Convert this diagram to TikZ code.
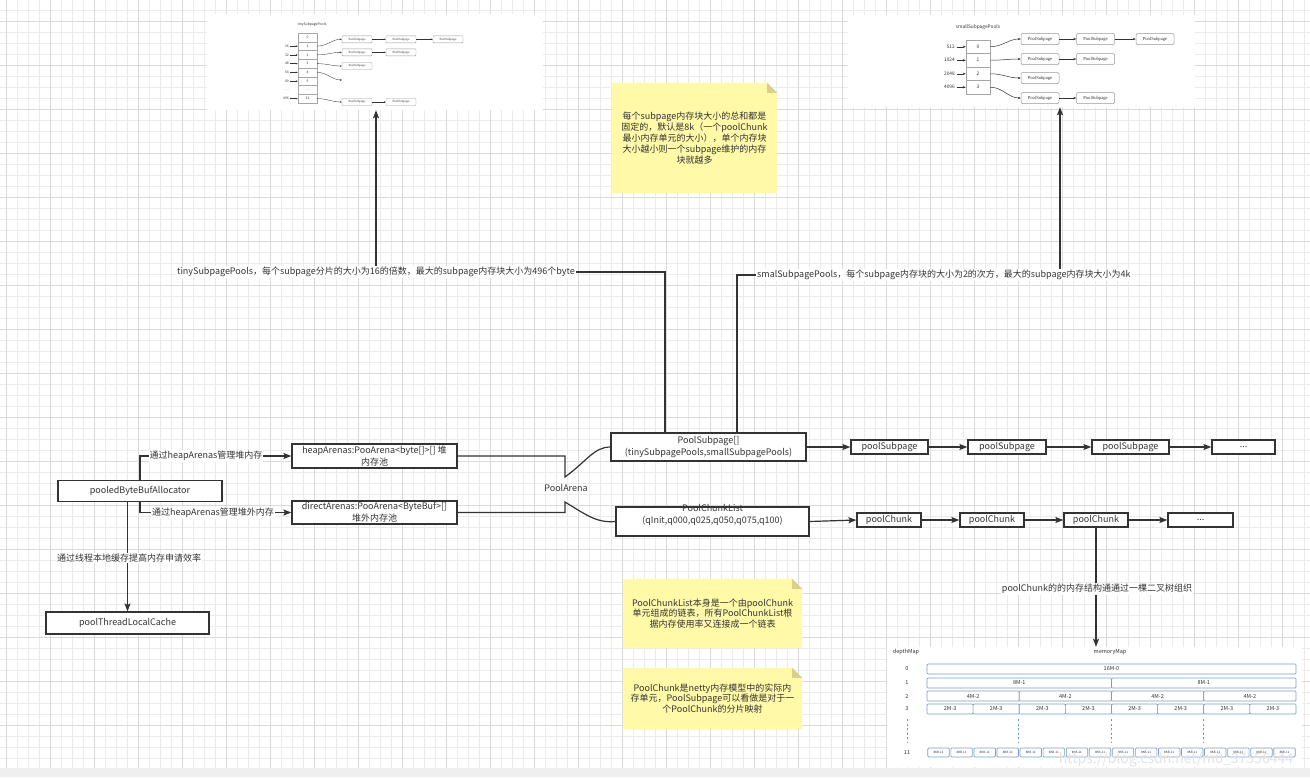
\documentclass[tikz,border=0pt]{standalone}
\usepackage{fontspec}
\setmainfont{Noto Sans CJK SC}
\newfontfamily\insetserif{Liberation Serif}
\usetikzlibrary{arrows.meta}
\pgfdeclarelayer{gridlayer}
\pgfdeclarelayer{notelayer}
\pgfsetlayers{gridlayer,notelayer,main}

\definecolor{ink}{HTML}{333333}
\definecolor{gridminor}{HTML}{EBEBEB}
\definecolor{gridmajor}{HTML}{DADADA}
\definecolor{notefill}{HTML}{FFF9A8}
\definecolor{notefold}{HTML}{D8D08C}
\definecolor{mapline}{HTML}{7C9DC4}
\definecolor{mapdashc}{HTML}{5A97D6}
\definecolor{stripgray}{HTML}{EFEFEF}

\tikzset{
  mainfont/.style={font=\fontsize{9}{12}\selectfont},
  box/.style={draw=ink, line width=1.2pt, fill=white, text=ink, mainfont,
              inner sep=0pt, align=center},
  conn/.style={draw=ink, line width=1.2pt},
  arr/.style={conn, -{Stealth[length=8pt,width=6pt,inset=1.5pt]}},
  lbl/.style={fill=white, text=ink, mainfont, inner sep=1pt},
  notetext/.style={text=ink, font=\fontsize{9}{10.8}\selectfont, align=center, inner sep=0pt},
  inset/.style={fill=white, draw=none, inner sep=0pt},
  % small drawings inside the three white panels
  ttxt/.style={text=ink, font=\fontsize{3.4}{4}\selectfont, inner sep=0pt},
  tcell/.style={draw=gray!70, line width=0.4pt, fill=white, text=ink,
                font=\fontsize{3.4}{4}\selectfont, inner sep=0pt,
                minimum width=19, minimum height=8.75},
  tbox/.style={draw=gray!80, line width=0.4pt, rounded corners=0.8pt, fill=white, text=ink,
               font=\insetserif\fontsize{3.2}{4}\selectfont, inner sep=0pt,
               minimum width=30, minimum height=7},
  tarr/.style={draw=ink, line width=0.35pt, -{Stealth[length=2pt,width=1.6pt]}},
  stxt/.style={text=ink, font=\fontsize{4.8}{5}\selectfont, inner sep=0pt},
  scell/.style={draw=gray!70, line width=0.5pt, fill=white, text=ink,
                font=\fontsize{4.8}{5}\selectfont, inner sep=0pt,
                minimum width=24, minimum height=13.5},
  sbox/.style={draw=gray!80, line width=0.5pt, rounded corners=1.2pt, fill=white, text=ink,
               font=\insetserif\fontsize{4.6}{5}\selectfont, inner sep=0pt,
               minimum width=38, minimum height=11},
  sarr/.style={draw=ink, line width=0.5pt, -{Stealth[length=3pt,width=2.4pt]}},
  mtxt/.style={text=ink, font=\fontsize{5.5}{6}\selectfont, inner sep=0pt},
  mbox/.style={draw=mapline, line width=0.7pt, rounded corners=1pt, fill=white, text=ink,
               font=\fontsize{5.5}{6}\selectfont, inner sep=0pt, minimum height=10},
  mleaf/.style={mbox, font=\fontsize{3}{3.5}\selectfont, minimum width=21.5, minimum height=9},
  mapdash/.style={draw=mapdashc, line width=0.8pt, dash pattern=on 2pt off 2.5pt},
}

\begin{document}
\begin{tikzpicture}[x=1pt,y=-1pt]
\useasboundingbox (0,0) rectangle (1310,777);

% ---- canvas with grid ----
\begin{pgfonlayer}{gridlayer}
  \fill[white] (0,0) rectangle (1310,777);
  \foreach \gx in {6,17,...,1310} \draw[gridminor, line width=0.7pt] (\gx,0) -- (\gx,768);
  \foreach \gy in {10.3,21.3,...,768} \draw[gridminor, line width=0.7pt] (0,\gy) -- (1310,\gy);
  \foreach \gx in {6,50,...,1310} \draw[gridmajor, line width=0.7pt] (\gx,0) -- (\gx,768);
  \foreach \gy in {21.3,65.3,...,768} \draw[gridmajor, line width=0.7pt] (0,\gy) -- (1310,\gy);
  \fill[stripgray] (0,768) rectangle (1310,777);
\end{pgfonlayer}

% ---- panel: tinySubpagePools ----
\node[inset, minimum width=336, minimum height=96] (tinyimg) at (375,62) {};
\node[ttxt] (ttitle) at (312,25) {tinySubpagePools};
\foreach \i/\t in {0/0,1/1,2/2,3/3,4/4,5/5,6/\ldots,7/31}{
  \pgfmathsetmacro\yc{33+8.75*(\i+0.5)}
  \node[tcell] (tc\i) at (307.5,\yc) {\t};
}
\foreach \i/\n in {1/16,2/32,3/48,4/64,5/80,7/496}{
  \node[ttxt, anchor=east] (tk\i) at (289,{33+8.75*(\i+0.5)}) {\n};
  \draw[tarr, shorten <=1pt] (tk\i.east) -- (tc\i.west);
}
\node[ttxt, anchor=east] (tk6) at (289,{33+8.75*6.5}) {\ldots};
\node[tbox] (tb11) at (357,39.3) {PoolSubpage};
\node[tbox] (tb12) at (401,39.3) {PoolSubpage};
\node[tbox] (tb13) at (448,39.3) {PoolSubpage};
\node[tbox] (tb21) at (357,52.3) {PoolSubpage};
\node[tbox] (tb22) at (401,52.3) {PoolSubpage};
\node[tbox] (tb31) at (357,66) {PoolSubpage};
\coordinate (tb41) at (342,80);
\node[tbox] (tb71) at (357,102) {PoolSubpage};
\node[tbox] (tb72) at (401,102) {PoolSubpage};
\draw[tarr] (tc1.east) to[out=0,in=180] (tb11.west);
\draw[tarr] (tc2.east) to[out=0,in=180] (tb21.west);
\draw[tarr] (tc3.east) to[out=0,in=180] (tb31.west);
\draw[tarr] (tc4.east) to[out=0,in=180] (tb41);
\draw[tarr] (tc7.east) to[out=0,in=180] (tb71.west);
\draw[tarr] (tb11) -- (tb12);
\draw[tarr] (tb12) -- (tb13);
\draw[tarr] (tb21) -- (tb22);
\draw[tarr] (tb71) -- (tb72);

% ---- panel: smallSubpagePools ----
\node[inset, minimum width=347, minimum height=92] (smallimg) at (1021.5,61) {};
\node[stxt] (stitle) at (978,27) {smallSubpagePools};
\foreach \i/\n in {0/512,1/1024,2/2048,3/4096}{
  \pgfmathsetmacro\yc{40+13.5*(\i+0.5)}
  \node[scell] (sc\i) at (978,\yc) {\i};
  \node[stxt, anchor=east] (sk\i) at (955,\yc) {\n};
  \draw[sarr, shorten <=1.5pt] (sk\i.east) -- (sc\i.west);
}
\node[sbox] (sb01) at (1040,39) {PoolSubpage};
\node[sbox] (sb02) at (1095.5,39) {PoolSubpage};
\node[sbox] (sb03) at (1155,39) {PoolSubpage};
\node[sbox] (sb11) at (1040,59) {PoolSubpage};
\node[sbox] (sb12) at (1095.5,59) {PoolSubpage};
\node[sbox] (sb21) at (1040,78) {PoolSubpage};
\node[sbox] (sb31) at (1040,98) {PoolSubpage};
\node[sbox] (sb32) at (1095.5,98) {PoolSubpage};
\draw[sarr] (sc0.east) to[out=0,in=180] (sb01.west);
\draw[sarr] (sc1.east) to[out=0,in=180] (sb11.west);
\draw[sarr] (sc2.east) to[out=0,in=180] (sb21.west);
\draw[sarr] (sc3.east) to[out=0,in=180] (sb31.west);
\draw[sarr] (sb01) -- (sb02);
\draw[sarr] (sb02) -- (sb03);
\draw[sarr] (sb11) -- (sb12);
\draw[sarr] (sb31) -- (sb32);

% ---- panel: memoryMap binary tree ----
\node[inset, minimum width=415, minimum height=120] (mapimg) at (1094.5,707) {};
\node[mtxt] (dlabel) at (906,652) {depthMap};
\node[mtxt] (mlabel) at (1110,652) {memoryMap};
\foreach \d/\yy in {0/669,1/683,2/696,3/709,11/752.5}
  \node[mtxt] (depth\d) at (907,\yy) {\d};
\node[mbox, minimum width=369] (m0) at (1111.5,669) {16M-0};
\foreach \i in {0,1}
  \node[mbox, minimum width=184.5] (m1-\i) at ({927+184.5*(\i+0.5)},683) {8M-1};
\foreach \i in {0,...,3}
  \node[mbox, minimum width=92.25] (m2-\i) at ({927+92.25*(\i+0.5)},696) {4M-2};
\foreach \i in {0,...,7}
  \node[mbox, minimum width=46.125] (m3-\i) at ({927+46.125*(\i+0.5)},709) {2M-3};
\foreach \i in {0,...,15}
  \node[mleaf] (m11-\i) at ({927+23.0625*(\i+0.5)},752.5) {8KB-11};
\foreach \dx in {907,1018,1111,1203}
  \draw[mapdash] (\dx,719) -- (\dx,742);
\node[text=gray!22, font=\fontsize{14}{14}\selectfont, inner sep=0pt] (wmark) at (1176,760)
  {https://blog.csdn.net/m0\_37556444};

% ---- main boxes ----
\node[box, minimum width=164, minimum height=21] (alloc) at (140,491) {pooledByteBufAllocator};
\node[box, minimum width=163, minimum height=22] (cache) at (127.5,623) {poolThreadLocalCache};
\node[box, minimum width=165, minimum height=24] (heap) at (374.5,456)
  {heapArenas:PooArena<byte[]>[] 堆\\内存池};
\node[box, minimum width=165, minimum height=23] (direct) at (374.5,512.5)
  {directArenas:PooArena<ByteBuf>[]\\堆外内存池};
\node[text=ink, mainfont, inner sep=0pt] (arena) at (566,488) {PoolArena};
\node[box, minimum width=195, minimum height=28] (subarr) at (708.5,447)
  {PoolSubpage[]\\(tinySubpagePools,smallSubpagePools)};
\node[box, minimum width=193, minimum height=29] (chunklist) at (712.5,521.5)
  {\raisebox{4pt}[0pt][0pt]{\begin{tabular}{@{}c@{}}PoolChunkList\\(qInit,q000,q025,q050,q075,q100)\end{tabular}}};

\node[box, minimum width=77, minimum height=14] (ps1) at (889.5,447) {poolSubpage};
\node[box, minimum width=78, minimum height=14] (ps2) at (1007,447) {poolSubpage};
\node[box, minimum width=77, minimum height=14] (ps3) at (1130.5,447) {poolSubpage};
\node[box, minimum width=63, minimum height=14] (ps4) at (1243.5,447) {...};
\node[box, minimum width=64, minimum height=14] (pc1) at (889,520) {poolChunk};
\node[box, minimum width=64, minimum height=14] (pc2) at (992,520) {poolChunk};
\node[box, minimum width=64, minimum height=14] (pc3) at (1096,520) {poolChunk};
\node[box, minimum width=65, minimum height=14] (pc4) at (1200.5,520) {...};

% ---- connectors ----
\coordinate (jtop) at (565,477);
\coordinate (jbot) at (565,502);
\coordinate (tinyturn) at (376,272);
\coordinate (smallturn) at (1060,275);
\coordinate (upleft) at (665,0);
\coordinate (upright) at (737,0);

\draw[arr] (alloc.north) |- (heap.west);
\draw[arr] (alloc.south) |- (direct.west);
\draw[arr] (alloc.south -| cache.north) -- (cache.north);

\draw[conn] (heap.east) -| (jtop) .. controls (587,461) and (594,447) .. (subarr.west);
\draw[conn] (direct.east) -| (jbot) .. controls (588,516) and (597,523) .. (chunklist.west);

\draw[arr] (subarr.east) -- (ps1.west);
\draw[arr] (ps1) -- (ps2);
\draw[arr] (ps2) -- (ps3);
\draw[arr] (ps3) -- (ps4);
\draw[arr] (chunklist.east) -- (pc1.west);
\draw[arr] (pc1) -- (pc2);
\draw[arr] (pc2) -- (pc3);
\draw[arr] (pc3) -- (pc4);

\draw[arr] (subarr.north -| upleft) |- (tinyturn) -- (tinyturn |- tinyimg.south);
\draw[arr] (subarr.north -| upright) |- (smallturn) -- (smallturn |- smallimg.south);
\draw[arr] (pc3.south) -- (pc3.south |- mapimg.north);

% ---- connector labels ----
\node[lbl] (l1) at (206,456) {通过heapArenas管理堆内存};
\node[lbl] (l2) at (213,513) {通过heapArenas管理堆外内存};
\node[lbl] (l3) at (129,558) {通过线程本地缓存提高内存申请效率};
\node[lbl] (l4) at (tinyturn) {tinySubpagePools，每个subpage分片的大小为16的倍数，最大的subpage内存块大小为496个byte};
\node[lbl, anchor=west] (l5) at (756,275) {smalSubpagePools，每个subpage内存块的大小为2的次方，最大的subpage内存块大小为4k};
\node[lbl] (l6) at (1097,589) {poolChunk的的内存结构通通过一棵二叉树组织};

% ---- sticky notes ----
\node[notetext, minimum width=165, minimum height=110] (note1) at (694.5,138)
  {每个subpage内存块大小的总和都是\\固定的，默认是8k（一个poolChunk\\最小内存单元的大小），单个内存块\\大小越小则一个subpage维护的内存\\块就越多};
\node[notetext, minimum width=179, minimum height=69] (note2) at (712.5,613.5)
  {PoolChunkList本身是一个由poolChunk\\单元组成的链表，所有PoolChunkList根\\据内存使用率又连接成一个链表};
\node[notetext, minimum width=179, minimum height=61] (note3) at (712.5,698.5)
  {PoolChunk是netty内存模型中的实际内\\存单元，PoolSubpage可以看做是对于一\\个PoolChunk的分片映射};
\begin{pgfonlayer}{notelayer}
  \foreach \n in {note1,note2,note3}{
    \fill[notefill] (\n.north west) -- ([xshift=-10pt]\n.north east)
      -- ([yshift=-10pt]\n.north east) -- (\n.south east) -- (\n.south west) -- cycle;
    \fill[notefold] ([xshift=-10pt]\n.north east) -- ([yshift=-10pt]\n.north east)
      -- ([xshift=-10pt,yshift=-10pt]\n.north east) -- cycle;
  }
\end{pgfonlayer}
\end{tikzpicture}
\end{document}
